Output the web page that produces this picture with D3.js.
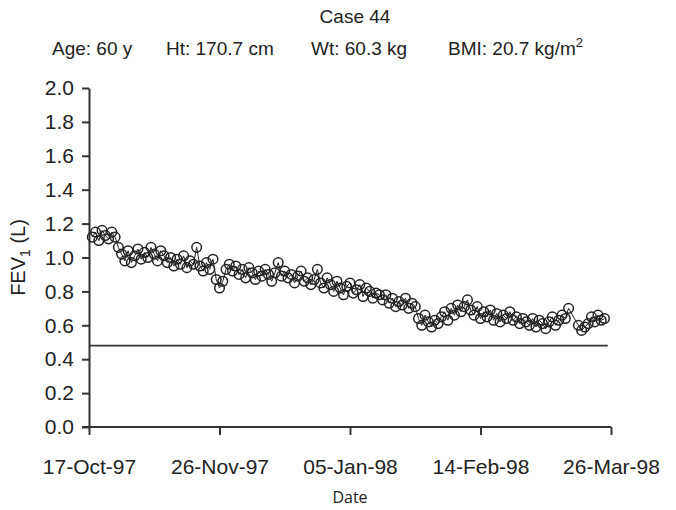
<!DOCTYPE html>
<meta charset="utf-8">
<style>
    body { margin: 0; background: #fff; }
    .axis path, .axis line { stroke: #333; stroke-width: 2; }
    .axis text { font: 21px "Liberation Sans", Arial, sans-serif; fill: #222; }
    .title { font: 19px "Liberation Sans", Arial, sans-serif; fill: #222; }
    .fev { fill: none; stroke: #222; stroke-width: 1; }
    .dot { fill: none; stroke: #222; stroke-width: 1.5; }
    .limit { stroke: #333; stroke-width: 1.8; }
</style>
<body>
<script src="https://d3js.org/d3.v7.min.js"></script>
<script>
    // Header text
    var titleText = "Case 44";
    var headerItems = ["Age: 60 y", "Ht: 170.7 cm", "Wt: 60.3 kg", "BMI: 20.7 kg/m"];

    // Axes
    var yTicks = [0, 0.2, 0.4, 0.6, 0.8, 1.0, 1.2, 1.4, 1.6, 1.8, 2.0];
    var xTickLabels = ["17-Oct-97", "26-Nov-97", "05-Jan-98", "14-Feb-98", "26-Mar-98"];

    // First recorded day, then one reading per day (null = no reading)
    var firstDay = "18-Oct-97";
    var fevValues = [
        1.12, 1.15, 1.10, 1.16, 1.13, 1.11, 1.15, 1.12,
        1.06, 1.02, 0.98,
        1.04, 0.97, 1.01, 1.05, 0.99, 1.03, 1.00, 1.06, 1.02, 0.98, 1.04, 1.01,
        0.97, 1.00, 0.95, 0.99, 0.96, 1.01, 0.94, 0.98, 0.96, 1.06,
        0.95, 0.92, 0.97, 0.93, 0.99,
        0.87, 0.82, 0.86, 0.93, 0.96,
        0.92, 0.95, 0.90, 0.93, 0.88, 0.94, 0.91, 0.87, 0.92, 0.89, 0.93, 0.90, 0.86, 0.91, 0.97, 0.89, 0.92, 0.88,
        0.90, 0.85, 0.89, 0.92, 0.86, 0.88, 0.84, 0.87, 0.93, 0.85, 0.82, 0.88,
        0.84, 0.80, 0.86, 0.82, 0.78, 0.83, 0.85, 0.79, 0.81, 0.84, 0.77, 0.82, 0.80, 0.76, 0.79, 0.78,
        0.75, 0.78, 0.73, 0.76, 0.71, 0.74, 0.72, 0.76, 0.70, 0.73, 0.71,
        0.64, 0.60, 0.66, 0.62, 0.59, 0.63, 0.61, 0.65,
        0.68, 0.63, 0.70, 0.66, 0.72, 0.68, 0.71, 0.75, 0.69,
        0.66, 0.71, 0.64, 0.68, 0.65, 0.69, 0.63, 0.67, 0.62, 0.66, 0.64, 0.68, 0.63, 0.65, 0.61, 0.64,
        0.62, 0.60, 0.64, 0.59, 0.63, 0.61, 0.58, 0.62, 0.65, 0.60, 0.63, 0.66, 0.64,
        0.70,
        null, null,
        0.60, 0.57, 0.59, 0.61,
        0.65, 0.62, 0.66, 0.63, 0.64
    ];

    // Reference line (lower limit)
    var limitValue = 0.48;
    var limitDates = ["17-Oct-97", "25-Mar-98"];

    var width = 676, height = 510;
    var margin = {top: 88, right: 65, bottom: 83, left: 89};

    var parse = d3.timeParse("%d-%b-%y");
    var fmt = d3.timeFormat("%d-%b-%y");

    var svg = d3.select("body").append("svg")
        .attr("width", width)
        .attr("height", height);

    var x = d3.scaleTime()
        .domain([parse(xTickLabels[0]), parse(xTickLabels[xTickLabels.length - 1])])
        .range([margin.left, width - margin.right]);
    var y = d3.scaleLinear()
        .domain([0, 2])
        .range([height - margin.bottom, margin.top]);

    var start = parse(firstDay);
    var points = fevValues.map(function (v, i) {
        return {date: d3.timeDay.offset(start, i), value: v};
    }).filter(function (d) { return d.value != null; });

    // Titles
    svg.append("text").attr("class", "title")
        .attr("x", 355).attr("y", 23)
        .attr("text-anchor", "middle")
        .text(titleText);

    var headerX = [52, 166, 311, 448];
    headerItems.forEach(function (t, i) {
        var tx = svg.append("text").attr("class", "title")
            .attr("x", headerX[i]).attr("y", 55)
            .text(t);
        if (i == 3) {
            tx.append("tspan").attr("dy", -8).style("font-size", "13px").text("2");
        }
    });

    // Axes
    svg.append("g").attr("class", "axis")
        .attr("transform", "translate(0," + y(0) + ")")
        .call(d3.axisBottom(x)
            .tickValues(xTickLabels.map(parse))
            .tickFormat(fmt)
            .tickSize(8).tickSizeOuter(0).tickPadding(24))
        .call(g => g.select(".domain").attr("d", "M" + (margin.left - 7) + ",0H" + x.range()[1]));

    svg.append("g").attr("class", "axis")
        .attr("transform", "translate(" + margin.left + ",0)")
        .call(d3.axisLeft(y)
            .tickValues(yTicks)
            .tickFormat(d3.format(".1f"))
            .tickSize(7).tickSizeOuter(0).tickPadding(8));

    // Axis titles
    svg.append("text")
        .attr("x", 350).attr("y", 503)
        .attr("text-anchor", "middle")
        .style("font", "16px 'Open Sans', sans-serif")
        .style("fill", "#222")
        .text("Date");

    var ylab = svg.append("text")
        .attr("transform", "translate(25," + y(1.0) + ") rotate(-90)")
        .attr("text-anchor", "middle")
        .style("font", "20px 'Liberation Sans', Arial, sans-serif")
        .style("fill", "#222");
    ylab.append("tspan").text("FEV");
    ylab.append("tspan").attr("dy", 5).style("font-size", "14px").text("1");
    ylab.append("tspan").attr("dy", -5).text(" (L)");

    // Limit line
    svg.append("line").attr("class", "limit")
        .attr("x1", x(parse(limitDates[0]))).attr("x2", x(parse(limitDates[1])))
        .attr("y1", y(limitValue)).attr("y2", y(limitValue));

    // FEV1 series
    svg.append("path").datum(points)
        .attr("class", "fev")
        .attr("d", d3.line().x(d => x(d.date)).y(d => y(d.value)));

    svg.append("g").selectAll("circle")
        .data(points)
        .enter().append("circle")
        .attr("class", "dot")
        .attr("cx", d => x(d.date))
        .attr("cy", d => y(d.value))
        .attr("r", 4.8);
</script>
</body>
